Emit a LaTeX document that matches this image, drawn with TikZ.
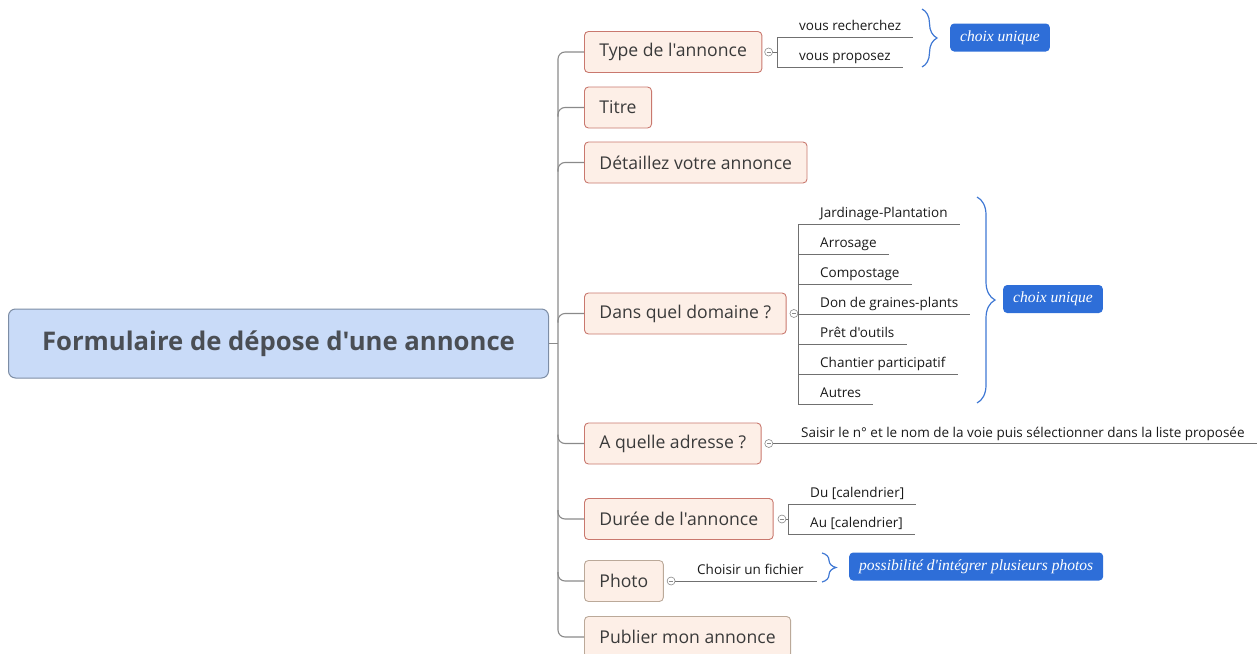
\documentclass[tikz,border=0pt]{standalone}
\usepackage{fontspec}
\setmainfont{Open Sans}[Ligatures=TeXOff]
\newfontfamily\notefont{Liberation Serif}
\usetikzlibrary{positioning, calc, decorations.pathreplacing}

\definecolor{rootfill}{HTML}{C9DBF8}
\definecolor{rootline}{HTML}{7D8DA5}
\definecolor{roottxt}{HTML}{4A4E54}
\definecolor{kidfill}{HTML}{FDEFE7}
\definecolor{kidline}{HTML}{C9786E}
\definecolor{kidgray}{HTML}{BBA999}
\definecolor{kidtxt}{HTML}{3A3A3A}
\definecolor{branchc}{HTML}{8A8A8A}
\definecolor{twigc}{HTML}{707070}
\definecolor{noteblue}{HTML}{2E6ED8}
\definecolor{bracec}{HTML}{3F78D4}

\tikzset{
  root/.style={draw=rootline, fill=rootfill, rounded corners=7pt, line width=1pt,
    anchor=west, minimum width=540pt, minimum height=69pt, text=roottxt,
    font=\fontsize{25.7}{30}\selectfont\bfseries},
  kid/.style={draw=kidline, fill=kidfill, rounded corners=4pt, line width=0.9pt,
    anchor=west, minimum height=41pt, inner xsep=15pt, text=kidtxt,
    font=\fontsize{17.6}{21}\selectfont},
  kidg/.style={kid, draw=kidgray},
  knob/.style={circle, draw=branchc, fill=white, line width=0.6pt, minimum size=8pt,
    inner sep=0pt, path picture={\draw[branchc, line width=0.6pt]
      ([xshift=-2pt]path picture bounding box.center) -- ([xshift=2pt]path picture bounding box.center);}},
  leaf/.style={anchor=base west, inner sep=0pt, text=black!90,
    font=\fontsize{13.5}{16}\selectfont},
  note/.style={fill=noteblue, rounded corners=4pt, anchor=west, minimum height=28pt,
    inner xsep=10pt, text=white, font=\fontsize{15.5}{18}\selectfont\notefont\itshape},
  branch/.style={draw=branchc, line width=1.1pt, rounded corners=7pt},
  twig/.style={draw=twigc, line width=0.8pt},
  curly/.style={draw=bracec, line width=1.2pt, decorate, decoration={brace, amplitude=#1}}
}

\begin{document}
\begin{tikzpicture}[x=1pt, y=-1pt]
  \useasboundingbox (0,0) rectangle (1257,653);

  % Centre topic
  \node[root] (root) at (8,343.5) {Formulaire de dépose d'une annonce};
  \coordinate (tr) at (558,343.5);

  % Main topics
  \node[kid] (type) at (584,52) {Type de l'annonce};
  \node[kid] (titre) at (584,107.5) {Titre};
  \node[kid] (detail) at (584,162.5) {Détaillez votre annonce};
  \node[kid] (domaine) at (584,313.5) {Dans quel domaine ?};
  \node[kid] (adresse) at (584,443.5) {A quelle adresse ?};
  \node[kid] (duree) at (584,519) {Durée de l'annonce};
  \node[kidg] (photo) at (584,581) {Photo};
  \node[kidg] (publier) at (584,637) {Publier mon annonce};

  % Trunk and branches
  \draw[branch] (root.east) -- (root.east -| tr);
  \draw[branch] (type.west) -- (type.west -| tr) -- (publier.west -| tr) -- (publier.west);
  \draw[branch] ($(titre.west -| tr)+(0,9)$) -- (titre.west -| tr) -- (titre.west);
  \draw[branch] ($(detail.west -| tr)+(0,9)$) -- (detail.west -| tr) -- (detail.west);
  \draw[branch] ($(domaine.west -| tr)+(0,9)$) -- (domaine.west -| tr) -- (domaine.west);
  \draw[branch] ($(adresse.west -| tr)+(0,-9)$) -- (adresse.west -| tr) -- (adresse.west);
  \draw[branch] ($(duree.west -| tr)+(0,-9)$) -- (duree.west -| tr) -- (duree.west);
  \draw[branch] ($(photo.west -| tr)+(0,-9)$) -- (photo.west -| tr) -- (photo.west);

  % Collapse knobs
  \node[knob, right=2pt of type] (typeo) {};
  \node[knob, right=3pt of domaine] (domaineo) {};
  \node[knob, right=3pt of adresse] (adresseo) {};
  \node[knob, right=4pt of duree] (dureeo) {};
  \node[knob, right=3pt of photo] (photoo) {};

  % Type de l'annonce
  \node[leaf] (cherche) at (799,30) {vous recherchez};
  \node[leaf] (propose) at (799,60) {vous proposez};
  \draw[twig] ([xshift=-22pt,yshift=-7pt]cherche.base west) -- ([xshift=12pt,yshift=-7pt]cherche.base east);
  \draw[twig] ([xshift=-22pt,yshift=-7pt]propose.base west) -- ([xshift=12pt,yshift=-7pt]propose.base east);
  \draw[twig] ([xshift=-22pt,yshift=-7pt]cherche.base west) -- ([xshift=-22pt,yshift=-7pt]propose.base west);
  \draw[twig] (typeo.east) -- ([xshift=-22pt]cherche.base west |- typeo.east);

  % Dans quel domaine
  \node[leaf] (jard) at (820,217) {Jardinage-Plantation};
  \node[leaf] (arro) at (820,247) {Arrosage};
  \node[leaf] (compo) at (820,277) {Compostage};
  \node[leaf] (don) at (820,307) {Don de graines-plants};
  \node[leaf] (pret) at (820,337) {Prêt d'outils};
  \node[leaf] (chant) at (820,367) {Chantier participatif};
  \node[leaf] (autres) at (820,397) {Autres};
  \draw[twig] ([xshift=-22pt,yshift=-7pt]jard.base west) -- ([xshift=12pt,yshift=-7pt]jard.base east);
  \draw[twig] ([xshift=-22pt,yshift=-7pt]arro.base west) -- ([xshift=12pt,yshift=-7pt]arro.base east);
  \draw[twig] ([xshift=-22pt,yshift=-7pt]compo.base west) -- ([xshift=12pt,yshift=-7pt]compo.base east);
  \draw[twig] ([xshift=-22pt,yshift=-7pt]don.base west) -- ([xshift=12pt,yshift=-7pt]don.base east);
  \draw[twig] ([xshift=-22pt,yshift=-7pt]pret.base west) -- ([xshift=12pt,yshift=-7pt]pret.base east);
  \draw[twig] ([xshift=-22pt,yshift=-7pt]chant.base west) -- ([xshift=12pt,yshift=-7pt]chant.base east);
  \draw[twig] ([xshift=-22pt,yshift=-7pt]autres.base west) -- ([xshift=12pt,yshift=-7pt]autres.base east);
  \draw[twig] ([xshift=-22pt,yshift=-7pt]jard.base west) -- ([xshift=-22pt,yshift=-7pt]autres.base west);
  \draw[twig] (domaineo.east) -- ([xshift=-22pt]don.base west |- domaineo.east);

  % A quelle adresse
  \node[leaf] (voie) at (801,437) {Saisir le n° et le nom de la voie puis sélectionner dans la liste proposée};
  \draw[twig] (adresseo.east) -- ([xshift=12pt]voie.base east |- adresseo.east);

  % Duree
  \node[leaf] (du) at (810,497) {Du [calendrier]};
  \node[leaf] (au) at (810,527) {Au [calendrier]};
  \draw[twig] ([xshift=-22pt,yshift=-7pt]du.base west) -- ([xshift=12pt,yshift=-7pt]du.base east);
  \draw[twig] ([xshift=-22pt,yshift=-7pt]au.base west) -- ([xshift=12pt,yshift=-7pt]au.base east);
  \draw[twig] ([xshift=-22pt,yshift=-7pt]du.base west) -- ([xshift=-22pt,yshift=-7pt]au.base west);
  \draw[twig] (dureeo.east) -- ([xshift=-22pt]du.base west |- dureeo.east);

  % Photo
  \node[leaf] (fichier) at (697,574) {Choisir un fichier};
  \draw[twig] (photoo.east) -- ([xshift=13pt]fichier.base east |- photoo.east);

  % Braces and notes
  \draw[curly=15pt] (922,9) -- (922,67);
  \node[note] (uniq1) at (950,37.5) {choix unique};
  \draw[curly=18pt] (977,197) -- (977,403);
  \node[note] (uniq2) at (1003,299) {choix unique};
  \draw[curly=14pt] (822,553) -- (822,582);
  \node[note] (photos) at (849,566.5) {possibilité d'intégrer plusieurs photos};
\end{tikzpicture}
\end{document}
